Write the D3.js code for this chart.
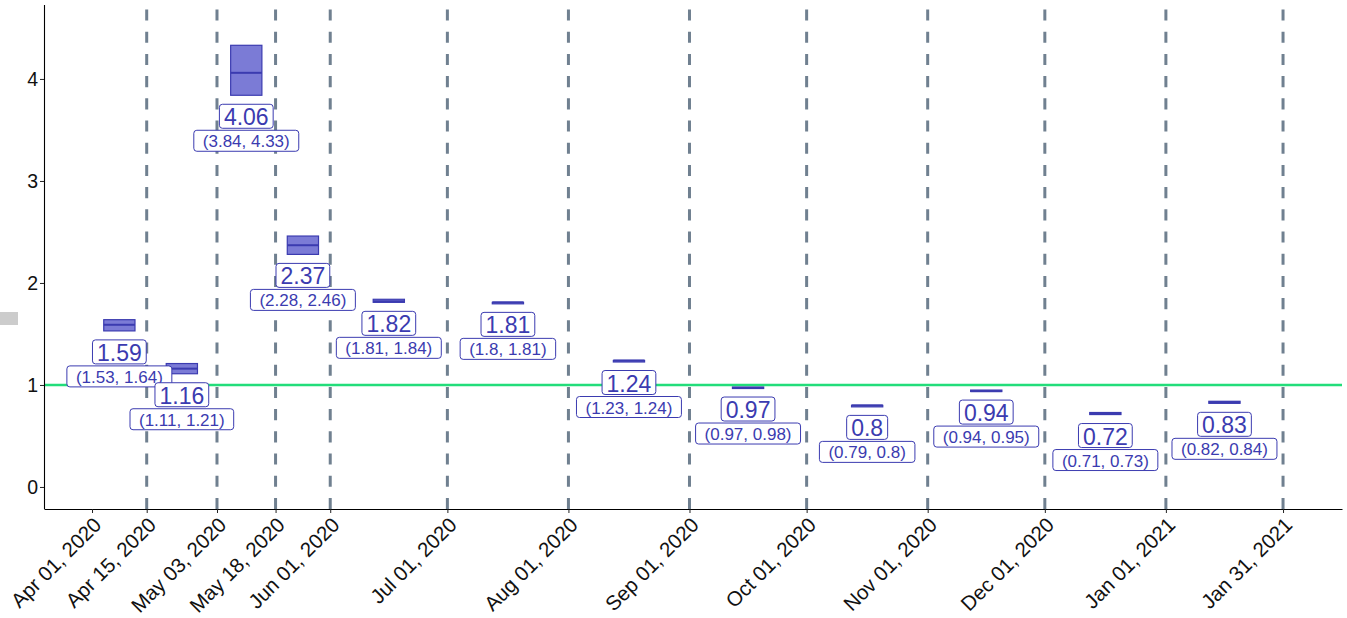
<!DOCTYPE html>
<html>
<head>
<meta charset="utf-8">
<script src="https://cdn.jsdelivr.net/npm/d3@7"></script>
<style>
  body { margin: 0; background: #fff; }
  text { font-family: "Liberation Sans", Arial, sans-serif; }
</style>
</head>
<body>
<div class="contain"></div>
<script>
// breakpoints between periods (first one has no dashed line)
const breaks = ["2020-04-01", "2020-04-15", "2020-05-03", "2020-05-18", "2020-06-01",
  "2020-07-01", "2020-08-01", "2020-09-01", "2020-10-01", "2020-11-01",
  "2020-12-01", "2021-01-01", "2021-01-31"];
const medians = [1.59, 1.16, 4.06, 2.37, 1.82, 1.81, 1.24, 0.97, 0.8, 0.94, 0.72, 0.83];
const lowers  = [1.53, 1.11, 3.84, 2.28, 1.81, 1.8, 1.23, 0.97, 0.79, 0.94, 0.71, 0.82];
const uppers  = [1.64, 1.21, 4.33, 2.46, 1.84, 1.81, 1.24, 0.98, 0.8, 0.95, 0.73, 0.84];
const yTicks = [0, 1, 2, 3, 4];

const svg_width = 1347;
const svg_height = 618;
const p_left = 44, p_right = 1342, p_top = 5, p_bottom = 509;

const blue = "#3b3bb0";

let svg = d3.select(".contain").append("svg")
            .attr("width", svg_width).attr("height", svg_height);

const parse = d3.utcParse("%Y-%m-%d");
const breakDates = breaks.map(parse);
const day = 864e5;

let xScale = d3.scaleUtc()
                .domain([new Date(breakDates[0].getTime() - 12.3 * day),
                         new Date(breakDates[0].getTime() + 320.1 * day)])
                .range([p_left, p_right]);

let yScale = d3.scaleLinear()
                .domain([-0.216, 4.725])
                .range([p_bottom, p_top]);

// stray grey legend key at the left edge
svg.append("rect").attr("x", 0).attr("y", 312).attr("width", 18).attr("height", 13)
   .attr("fill", "#cccccc");

// dashed period boundaries
svg.append("g").selectAll("line")
  .data(breakDates.slice(1)).enter().append("line")
  .attr("x1", d => xScale(d)).attr("x2", d => xScale(d))
  .attr("y1", p_bottom).attr("y2", p_top)
  .attr("stroke", "#708090").attr("stroke-width", 3)
  .attr("stroke-dasharray", "11.1,11.1");

// reference line at 1
svg.append("line")
  .attr("x1", p_left).attr("x2", p_right)
  .attr("y1", yScale(1)).attr("y2", yScale(1))
  .attr("stroke", "#22dd7a").attr("stroke-width", 2.6);

// axes
let xAxis = d3.axisBottom(xScale).tickValues(breakDates)
              .tickFormat(d3.utcFormat("%b %d, %Y")).tickSize(4).tickSizeOuter(0);
let gx = svg.append("g")
  .attr("transform", `translate(0, ${p_bottom})`)
  .call(xAxis);
gx.select(".domain").attr("stroke", "#000").attr("stroke-width", 1.1);
gx.selectAll(".tick line").attr("stroke", "#222");
gx.selectAll(".tick text")
  .attr("font-size", 20.5).attr("fill", "#111")
  .attr("text-anchor", "end")
  .attr("dy", "0.35em").attr("y", 0).attr("x", 0)
  .attr("transform", "translate(5, 12) rotate(-45)");

let yAxis = d3.axisLeft(yScale).tickValues(yTicks).tickFormat(d3.format("d"))
              .tickSize(4).tickSizeOuter(0);
let gy = svg.append("g")
  .attr("transform", `translate(${p_left}, 0)`)
  .call(yAxis);
gy.select(".domain").attr("stroke", "#000").attr("stroke-width", 1.1)
  .attr("d", `M0.5,${p_top}V${p_bottom}`);
gy.selectAll(".tick line").attr("stroke", "#222");
gy.selectAll(".tick text").attr("font-size", 19.5).attr("fill", "#111").attr("x", -6);

// period centres
const rows = medians.map((m, i) => ({
  mid: new Date((breakDates[i].getTime() + breakDates[i + 1].getTime()) / 2),
  med: m, lo: lowers[i], hi: uppers[i]
}));

const boxW = 8 * day;
let boxes = svg.append("g").selectAll("g").data(rows).enter().append("g");
boxes.append("rect")
  .attr("x", d => xScale(new Date(d.mid.getTime() - boxW / 2)))
  .attr("width", d => xScale(new Date(d.mid.getTime() + boxW / 2)) - xScale(new Date(d.mid.getTime() - boxW / 2)))
  .attr("y", d => yScale(d.hi))
  .attr("height", d => Math.max(yScale(d.lo) - yScale(d.hi), 1.5))
  .attr("fill", "#7b7bd6").attr("stroke", blue).attr("stroke-width", 1.2);
boxes.append("line")
  .attr("x1", d => xScale(new Date(d.mid.getTime() - boxW / 2)))
  .attr("x2", d => xScale(new Date(d.mid.getTime() + boxW / 2)))
  .attr("y1", d => yScale(d.med)).attr("y2", d => yScale(d.med))
  .attr("stroke", blue).attr("stroke-width", 2);

// labels
function label(g, txt, cx, ty, h, fs, pad) {
  let r = g.append("rect");
  let t = g.append("text").text(txt)
    .attr("x", cx).attr("y", ty + h / 2 + 1)
    .attr("text-anchor", "middle").attr("dominant-baseline", "central")
    .attr("font-size", fs).attr("fill", blue);
  let w = t.node().getComputedTextLength() + 2 * pad;
  r.attr("x", cx - w / 2).attr("y", ty).attr("width", w).attr("height", h)
    .attr("rx", 3).attr("fill", "#fff").attr("stroke", blue).attr("stroke-width", 1);
}

let labels = svg.append("g");
rows.forEach(d => {
  let cx = xScale(d.mid);
  let ty = yScale(d.lo) + 9;
  let g = labels.append("g");
  label(g, String(d.med), cx, ty, 24, 23, 4.5);
  label(g, `(${d.lo}, ${d.hi})`, cx, ty + 26, 21, 17, 9);
});
</script>
</body>
</html>
